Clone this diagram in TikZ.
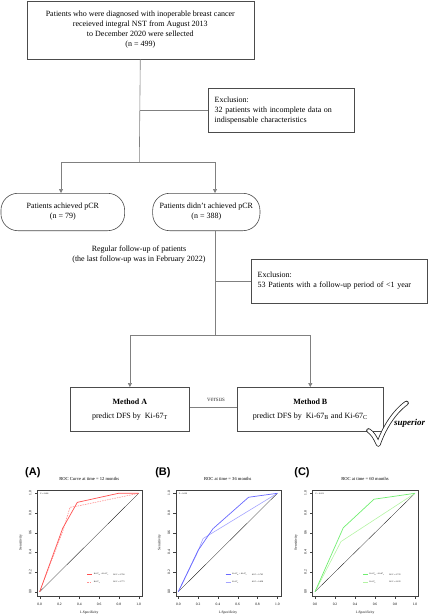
\documentclass[tikz,border=0pt]{standalone}
\usepackage{fontspec}
\setmainfont{Liberation Serif}
\newfontfamily\arialfont{Liberation Sans}
\usetikzlibrary{arrows.meta}
\definecolor{redA}{HTML}{FF5050}
\definecolor{redB}{HTML}{FF9090}
\definecolor{bluA}{HTML}{6868FF}
\definecolor{bluB}{HTML}{A4A4FF}
\definecolor{grnA}{HTML}{70EE70}
\definecolor{grnB}{HTML}{B4F4A4}
\tikzset{
  box/.style={draw=black!70, line width=0.6pt, font=\fontsize{8}{10}\selectfont, align=center, inner sep=0pt},
  exbox/.style={box, align=left, inner sep=6pt},
  rbox/.style={box, rounded corners=17pt},
  conn/.style={draw=black!50, line width=0.6pt},
  arr/.style={conn, -{Triangle[length=4pt,width=4pt]}},
  frame/.style={draw=black!75, line width=0.4pt},
  tick/.style={draw=black!75, line width=0.3pt},
  ticklab/.style={font=\fontsize{3.6}{4}\selectfont, inner sep=0pt},
  tiny/.style={font=\fontsize{2.1}{2.5}\selectfont, inner sep=0pt},
  plab/.style={font=\arialfont\bfseries\fontsize{11}{12}\selectfont, inner sep=0pt},
  ptitle/.style={font=\fontsize{4.6}{5}\selectfont, inner sep=0pt},
}
\newcommand\rocframe[4]{%
  \draw[frame] (-0.024,-0.042) rectangle (1.036,1.035);
  \foreach \t/\l in {0/0.0,0.2/0.2,0.4/0.4,0.6/0.6,0.8/0.8,1/1.0}{
    \draw[tick] (\t,-0.042) -- (\t,-0.07);
    \node[ticklab] (xl\l) at (\t,-0.125) {\l};
    \draw[tick] (-0.024,\t) -- (-0.052,\t);
    \node[ticklab, rotate=90] (yl\l) at (-0.095,\t) {\l};
  }
  \node[ticklab] (xlab) at (0.5,-0.213) {1-Specificity};
  \node[ticklab, rotate=90] (ylab) at (-0.19,0.5) {Sensitivity};
  \node[ptitle] (title) at (0.5,1.145) {#1};
  \node[tiny, anchor=west] (pval) at (0.005,0.995) {#2};
  \node[tiny, anchor=west] (lg1) at (0.545,0.173) {Ki-67\textsubscript{B} + Ki-67\textsubscript{C}};
  \node[tiny, anchor=west] (lg2) at (0.545,0.10) {Ki-67\textsubscript{T}};
  \node[tiny, anchor=west] (au1) at (0.74,0.173) {AUC = #3};
  \node[tiny, anchor=west] (au2) at (0.74,0.10) {AUC = #4};
  \draw[black, line width=0.25pt] (0,0) -- (1,1);
}
\begin{document}
\begin{tikzpicture}[x=1pt,y=-1pt]
\useasboundingbox (0,0) rectangle (431,615);

% ---- flowchart ----
\node[box, minimum width=227pt, minimum height=58pt] (top) at (140.3,30)
  {Patients who were diagnosed with inoperable breast cancer\\receieved integral NST from August 2013\\to December 2020 were sellected\\(n = 499)};
\node[exbox, text width=133.3pt, minimum height=43.3pt] (ex1) at (281.3,110.3)
  {Exclusion:\\32 patients with incomplete data on\\indispensable characteristics};
\coordinate (j1) at (139.3,162);
\draw[conn] (top.south) -- (j1);
\draw[conn] (top.south |- ex1.west) -- (ex1.west);

\node[rbox, minimum width=123.7pt, minimum height=37.4pt] (pcr) at (62.8,212)
  {Patients achieved pCR\\(n = 79)};
\node[rbox, minimum width=107.3pt, minimum height=37.4pt] (npcr) at (206.3,212)
  {Patients didn't achieved pCR\\(n = 388)};
\draw[arr] (j1) -| ([xshift=-1.8pt]pcr.north);
\draw[arr] (j1) -| ([xshift=8.7pt]npcr.north);

\node[font=\fontsize{8}{10}\selectfont, align=center, inner sep=0pt] (fu) at (139,255)
  {Regular follow-up of patients\\(the last follow-up was in February 2022)};
\node[exbox, text width=163.6pt, minimum height=44.3pt] (ex2) at (339.5,281)
  {Exclusion:\\53 Patients with a follow-up period of <1 year};
\coordinate (j2) at (215,335.7);
\draw[conn] ([xshift=8.7pt]npcr.south) -- (j2);
\draw[conn] (j2 |- ex2.west) -- (ex2.west);

\node[box, font=\fontsize{8}{14}\selectfont, minimum width=119.7pt, minimum height=43.7pt] (ma) at (129.9,409.2)
  {\textbf{Method A}\\predict DFS by~ Ki-67\textsubscript{T}};
\node[box, font=\fontsize{8}{14}\selectfont, minimum width=146pt, minimum height=43.7pt] (mb) at (310.3,409.2)
  {\textbf{Method B}\\predict DFS by~ Ki-67\textsubscript{B} and Ki-67\textsubscript{C}};
\draw[arr] (j2) -| (ma.north);
\draw[arr] (j2) -| (mb.north);
\draw[draw=black!50, line width=0.5pt, double=white, double distance=1.8pt] (ma.east |- 0,408.7) -- (mb.west |- 0,408.7);
\node[font=\fontsize{7}{8}\selectfont, inner sep=0pt, text=black!70] (vs) at (216,400) {versus};

% checkmark
\coordinate (c1) at (368.5,430.5);
\coordinate (c2) at (378.3,444.5);
\coordinate (c3) at (406.5,403);
\draw[black!85, line width=4.6pt, line cap=round, line join=round] (c1) .. controls (372.5,433) and (375.5,438) .. (c2) .. controls (384,428) and (394,412) .. (c3);
\draw[white, line width=3pt, line cap=round, line join=round] (c1) .. controls (372.5,433) and (375.5,438) .. (c2) .. controls (384,428) and (394,412) .. (c3);
\node[font=\fontsize{9}{10}\selectfont\bfseries\itshape, inner sep=0pt, anchor=west] (sup) at (393.8,423.3) {superior};

% ---- ROC A ----
\begin{scope}[xshift=39.7pt, yshift=-591.7pt, x=99pt, y=98.4pt]
  \node[plab] (la) at (-0.069,1.206) {(A)};
  \rocframe{ROC Curve at time = 12 months}{P = 0.466}{0.790}{0.775}
  \draw[redB, line width=0.6pt, dash pattern=on 1.5pt off 1pt] (0,0) -- (0.235,0.62) -- (0.306,0.858) -- (0.38,0.87) -- (1,1);
  \draw[redA, line width=0.7pt] (0,0) -- (0.232,0.644) -- (0.38,0.908) -- (0.795,1) -- (1,1);
  \draw[redA, line width=0.6pt] (0.478,0.173) -- (0.528,0.173);
  \draw[redB, line width=0.6pt, dash pattern=on 1.5pt off 1pt] (0.478,0.10) -- (0.528,0.10);
\end{scope}

% ---- ROC B ----
\begin{scope}[xshift=178.3pt, yshift=-591.7pt, x=99pt, y=98.4pt]
  \node[plab] (lb) at (-0.155,1.206) {(B)};
  \rocframe{ROC at time = 36 months}{P = 0.029}{0.705}{0.658}
  \draw[bluB, line width=0.6pt] (0,0) -- (0.19,0.39) -- (0.25,0.54) -- (1,1);
  \draw[bluA, line width=0.7pt] (0,0) -- (0.2,0.42) -- (0.35,0.64) -- (0.71,0.96) -- (1,1);
  \draw[bluA, line width=0.6pt] (0.478,0.173) -- (0.528,0.173);
  \draw[bluB, line width=0.6pt] (0.478,0.10) -- (0.528,0.10);
\end{scope}

% ---- ROC C ----
\begin{scope}[xshift=315pt, yshift=-591.7pt, x=100pt, y=98.4pt]
  \node[plab] (lc) at (-0.13,1.206) {(C)};
  \rocframe{ROC at time = 60 months}{P = 0.022}{0.725}{0.635}
  \draw[grnB, line width=0.6pt] (0,0) -- (0.26,0.51) -- (1,1);
  \draw[grnA, line width=0.7pt] (0,0) -- (0.283,0.65) -- (0.59,0.94) -- (1,1);
  \draw[grnA, line width=0.6pt] (0.478,0.173) -- (0.528,0.173);
  \draw[grnB, line width=0.6pt] (0.478,0.10) -- (0.528,0.10);
\end{scope}
\end{tikzpicture}
\end{document}
